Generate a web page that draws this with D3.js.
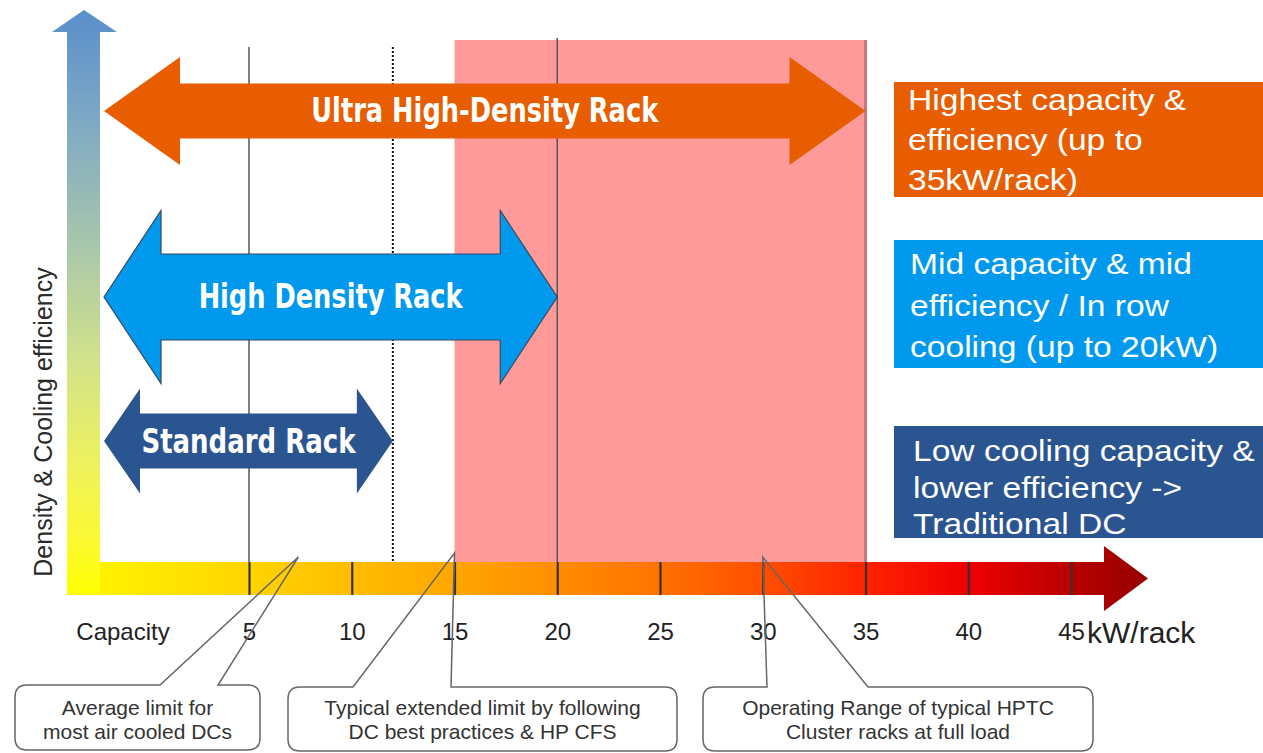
<!DOCTYPE html>
<html>
<head>
<meta charset="utf-8">
<title>Rack density vs. cooling capacity</title>
<script src="https://cdn.jsdelivr.net/npm/d3@7"></script>
<style>
  body { margin: 0; background: #fff; }
  svg { display: block; }
</style>
</head>
<body>
<svg id="chart" width="1263" height="753"></svg>
<script>
// ---- values ----
const tickValues = [5, 10, 15, 20, 25, 30, 35, 40, 45];
const axisUnit = "kW/rack";
const axisStartLabel = "Capacity";
const yAxisLabel = "Density & Cooling efficiency";

const rackNames = ["Ultra High-Density Rack", "High Density Rack", "Standard Rack"];
const rackMaxKW = [35, 20, 12];

const bandKW = [15, 35];          // shaded operating range
const refLineKW = [5, 12, 20];    // vertical guide lines
const refLineDotted = [false, true, false];

const descLines = [
  ["Highest capacity &", "efficiency (up to", "35kW/rack)"],
  ["Mid capacity & mid", "efficiency / In row", "cooling (up to 20kW)"],
  ["Low cooling capacity &", "lower efficiency ->", "Traditional DC"]
];

const calloutLines = [
  ["Average limit for", "most air cooled DCs"],
  ["Typical extended limit by following", "DC best practices & HP CFS"],
  ["Operating Range of typical HPTC", "Cluster racks at full load"]
];
const calloutKW = [7.4, 15, 30];

// ---- styling / layout ----
const rackFill = ["#e85d00", "#0099ee", "#2b5590"];
const rackGeom = [
  { cy: 111, hh: 54,   sh: 27.5, hl: 76, base: 122, w: 347, stroke: "none" },
  { cy: 297, hh: 86.5, sh: 43,   hl: 57, base: 308, w: 264, stroke: "#34495e" },
  { cy: 441, hh: 52.5, sh: 27.5, hl: 36, base: 453, w: 214, stroke: "none" }
];
const descGeom = [
  { y0: 82,  y1: 197, x: 908, base: [110, 150, 190] },
  { y0: 240, y1: 368, x: 910, base: [274, 316, 357] },
  { y0: 426, y1: 538, x: 913, base: [461, 498, 534] }
];
const calloutGeom = [
  { x0: 15,  x1: 260,  y0: 685, y1: 750, gl: 160, gr: 218, py: 557 },
  { x0: 288, x1: 677,  y0: 687, y1: 751, gl: 353, gr: 451, py: 553 },
  { x0: 703, x1: 1093, y0: 687, y1: 751, gl: 767, gr: 868, py: 557 }
];

const svg = d3.select("#chart");
const defs = svg.append("defs");

const x = d3.scaleLinear().domain([5, 45]).range([249, 1071]);

const barTop = 562, barBot = 595, vbarL = 67, vbarR = 100;
const plotTop = 40;
const arrowLeft = 104;

// gradients for the two axis arrows
const hg = defs.append("linearGradient").attr("id", "hgrad")
  .attr("gradientUnits", "userSpaceOnUse")
  .attr("x1", vbarR).attr("x2", 1148).attr("y1", 0).attr("y2", 0);
[[0, "#fff200"], [0.143, "#ffd400"], [0.339, "#ffa600"], [0.436, "#ff8d00"],
 [0.534, "#ff7200"], [0.632, "#ff4f00"], [0.73, "#ff2200"], [0.827, "#f00000"],
 [0.926, "#b80000"], [1, "#960000"]]
  .forEach(([o, c]) => hg.append("stop").attr("offset", o).attr("stop-color", c));

const vg = defs.append("linearGradient").attr("id", "vgrad")
  .attr("gradientUnits", "userSpaceOnUse")
  .attr("x1", 0).attr("x2", 0).attr("y1", 10).attr("y2", barBot);
[[0, "#5a8fcc"], [0.2, "#80aac4"], [0.42, "#acc9a8"], [0.6, "#d2e28a"],
 [0.78, "#eef25c"], [0.9, "#fbf835"], [1, "#ffff00"]]
  .forEach(([o, c]) => vg.append("stop").attr("offset", o).attr("stop-color", c));

// shaded operating band
svg.append("rect")
  .attr("x", x(bandKW[0])).attr("y", plotTop)
  .attr("width", x(bandKW[1]) - x(bandKW[0])).attr("height", barTop - plotTop)
  .attr("fill", "#ff9a9a");
svg.append("line")
  .attr("x1", x(bandKW[1])).attr("x2", x(bandKW[1]))
  .attr("y1", plotTop).attr("y2", barTop)
  .attr("stroke", "#c47a7a").attr("stroke-width", 3);

// vertical guide lines
const refTop = [47, 47, 38];
svg.selectAll("line.ref").data(refLineKW).join("line")
  .attr("class", "ref")
  .attr("x1", d => x(d)).attr("x2", d => x(d))
  .attr("y1", (d, i) => refTop[i])
  .attr("y2", (d, i) => refLineDotted[i] ? 575 : barTop)
  .attr("stroke", (d, i) => refLineDotted[i] ? "#111" : "#555")
  .attr("stroke-width", (d, i) => refLineDotted[i] ? 2 : 1.5)
  .attr("stroke-dasharray", (d, i) => refLineDotted[i] ? "2,2" : null);

// double-headed rack arrows
function dblArrow(xl, xr, g) {
  const { cy, hh, sh, hl } = g;
  return `M${xl},${cy} L${xl + hl},${cy - hh} L${xl + hl},${cy - sh} L${xr - hl},${cy - sh}
          L${xr - hl},${cy - hh} L${xr},${cy} L${xr - hl},${cy + hh} L${xr - hl},${cy + sh}
          L${xl + hl},${cy + sh} L${xl + hl},${cy + hh} Z`;
}
const racks = rackNames.map((name, i) => ({ name, kw: rackMaxKW[i], g: rackGeom[i], fill: rackFill[i] }));
const rg = svg.selectAll("g.rack").data(racks).join("g").attr("class", "rack");
rg.append("path")
  .attr("d", d => dblArrow(arrowLeft, x(d.kw), d.g))
  .attr("fill", d => d.fill)
  .attr("stroke", d => d.g.stroke).attr("stroke-width", 1.2);
rg.append("text")
  .attr("x", d => (arrowLeft + d.g.hl + x(d.kw) - d.g.hl) / 2)
  .attr("y", d => d.g.base)
  .attr("text-anchor", "middle")
  .attr("font-family", "'Liberation Sans Narrow', 'DejaVu Sans Condensed', 'Roboto', sans-serif")
  .attr("font-weight", "bold")
  .attr("font-size", 33)
  .attr("textLength", d => d.g.w)
  .attr("lengthAdjust", "spacingAndGlyphs")
  .attr("fill", "#fff")
  .text(d => d.name);

// vertical axis arrow
svg.append("path")
  .attr("d", `M${vbarL},${barBot} L${vbarL},32 L52,32 L84,10 L117,32 L${vbarR},32 L${vbarR},${barBot} Z`)
  .attr("fill", "url(#vgrad)");

// horizontal axis arrow
svg.append("path")
  .attr("d", `M${vbarR},${barTop} L1104,${barTop} L1104,546 L1148,578.5 L1104,611 L1104,${barBot} L${vbarR},${barBot} Z`)
  .attr("fill", "url(#hgrad)");

// axis ticks and labels
const axis = d3.axisBottom(x).tickValues(tickValues).tickSizeInner(-(barBot - barTop)).tickSizeOuter(0).tickPadding(28);
const ag = svg.append("g").attr("transform", `translate(0,${barBot})`).call(axis);
ag.select(".domain").remove();
ag.selectAll(".tick line").attr("stroke", "#333").attr("stroke-width", 2.2);
ag.selectAll(".tick text")
  .attr("font-family", "'Liberation Sans', Arial, sans-serif")
  .attr("font-size", 24).attr("fill", "#222");

svg.append("text")
  .attr("x", 123).attr("y", 640).attr("text-anchor", "middle")
  .attr("font-family", "'Liberation Sans', Arial, sans-serif")
  .attr("font-size", 24).attr("fill", "#222")
  .text(axisStartLabel);
svg.append("text")
  .attr("x", 1087).attr("y", 643)
  .attr("font-family", "'Liberation Sans', Arial, sans-serif")
  .attr("font-size", 30).attr("fill", "#222")
  .text(axisUnit);

svg.append("text")
  .attr("transform", "translate(52,422) rotate(-90)")
  .attr("text-anchor", "middle")
  .attr("font-family", "'Liberation Sans', Arial, sans-serif")
  .attr("font-size", 25).attr("fill", "#2a2a2a")
  .text(yAxisLabel);

// descriptive boxes on the right
const descs = descLines.map((lines, i) => ({ lines, g: descGeom[i], fill: rackFill[i] }));
const dg = svg.selectAll("g.desc").data(descs).join("g").attr("class", "desc");
dg.append("rect")
  .attr("x", 894).attr("y", d => d.g.y0)
  .attr("width", 1263 - 894).attr("height", d => d.g.y1 - d.g.y0)
  .attr("fill", d => d.fill);
dg.each(function (d) {
  d3.select(this).selectAll("text").data(d.lines).join("text")
    .attr("transform", (t, j) => `translate(${d.g.x},${d.g.base[j]}) scale(1.12,1)`)
    .attr("font-family", "'Liberation Sans', Arial, sans-serif")
    .attr("font-size", 30).attr("fill", "#fff")
    .text(t => t);
});

// callout bubbles
function calloutPath(g, px) {
  const r = 12;
  return `M${g.gr},${g.y0} H${g.x1 - r} Q${g.x1},${g.y0} ${g.x1},${g.y0 + r} V${g.y1 - r}
          Q${g.x1},${g.y1} ${g.x1 - r},${g.y1} H${g.x0 + r} Q${g.x0},${g.y1} ${g.x0},${g.y1 - r}
          V${g.y0 + r} Q${g.x0},${g.y0} ${g.x0 + r},${g.y0} H${g.gl} L${px},${g.py} Z`;
}
const callouts = calloutLines.map((lines, i) => ({ lines, kw: calloutKW[i], g: calloutGeom[i] }));
const cg = svg.selectAll("g.callout").data(callouts).join("g").attr("class", "callout");
cg.append("path")
  .attr("d", d => calloutPath(d.g, x(d.kw)))
  .attr("fill", "none").attr("stroke", "#666").attr("stroke-width", 1.5);
cg.each(function (d) {
  d3.select(this).selectAll("text").data(d.lines).join("text")
    .attr("x", (d.g.x0 + d.g.x1) / 2)
    .attr("y", (t, j) => 715 + j * 24)
    .attr("text-anchor", "middle")
    .attr("font-family", "'Liberation Sans', Arial, sans-serif")
    .attr("font-size", 21).attr("fill", "#333")
    .text(t => t);
});
</script>
</body>
</html>
